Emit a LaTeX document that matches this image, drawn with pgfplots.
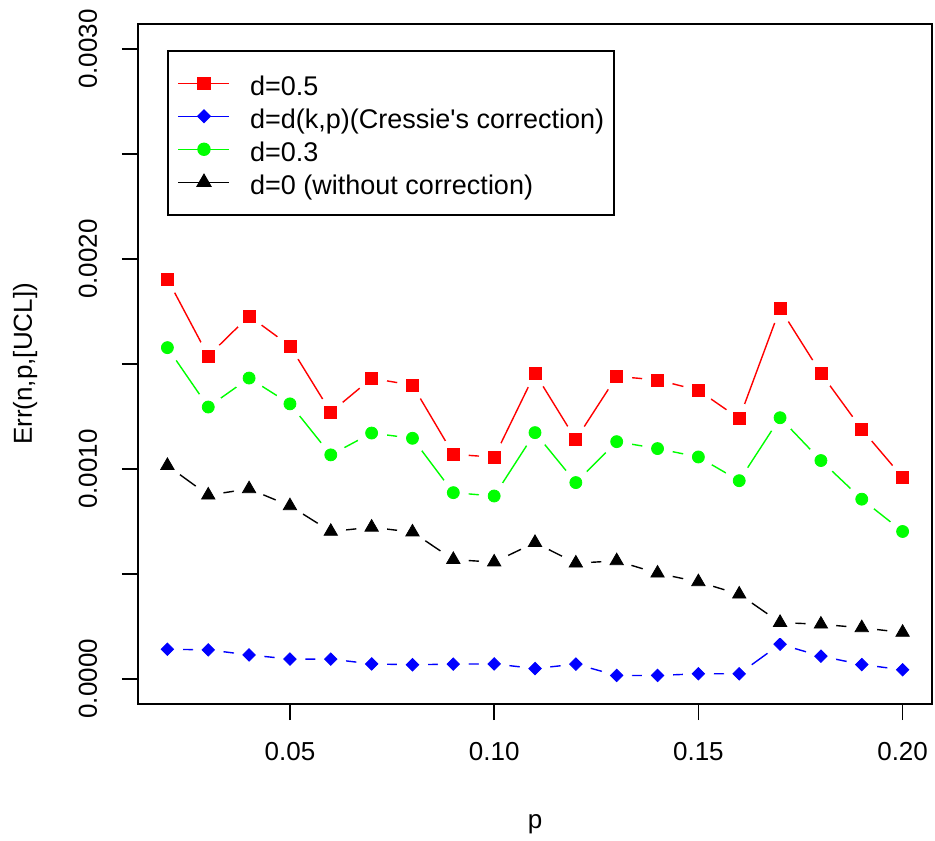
\documentclass[border=0pt]{standalone}
\usepackage{fontspec}
\setmainfont{Liberation Sans}
\usepackage{pgfplots}
\pgfplotsset{compat=1.18}
\usepackage{pgfplotstable}
\pgfplotstableread{
p    red      blue     green    black
0.02 0.001905 0.000141 0.001578 0.001016
0.03 0.001538 0.000138 0.001295 0.000875
0.04 0.001729 0.000114 0.001433 0.000905
0.05 0.001586 0.000094 0.001310 0.000824
0.06 0.001270 0.000094 0.001067 0.000702
0.07 0.001432 0.000071 0.001171 0.000722
0.08 0.001399 0.000067 0.001146 0.000699
0.09 0.001070 0.000070 0.000887 0.000568
0.10 0.001056 0.000071 0.000871 0.000556
0.11 0.001456 0.000049 0.001173 0.000649
0.12 0.001140 0.000070 0.000935 0.000551
0.13 0.001441 0.000016 0.001130 0.000562
0.14 0.001424 0.000016 0.001097 0.000503
0.15 0.001375 0.000024 0.001057 0.000462
0.16 0.001240 0.000024 0.000944 0.000403
0.17 0.001765 0.000165 0.001244 0.000268
0.18 0.001456 0.000108 0.001040 0.000260
0.19 0.001189 0.000068 0.000856 0.000243
0.20 0.000960 0.000043 0.000702 0.000221
}\datatable
\definecolor{rred}{RGB}{255,0,0}
\definecolor{rblue}{RGB}{0,0,255}
\definecolor{rgreen}{RGB}{0,255,0}
\begin{document}
\fontsize{13}{15.6}\selectfont
\begin{tikzpicture}
\begin{axis}[name=ax, scale only axis, width=397pt, height=340pt,
  xmin=0.0128, xmax=0.2072, ymin=-0.00012, ymax=0.00312,
  axis line style={line width=0.8pt, black},
  tick style={line width=0.8pt, black},
  tick align=outside, major tick length=8pt,
  xtick pos=bottom, ytick pos=left,
  xtick={0.05,0.10,0.15,0.20}, xticklabels={0.05,0.10,0.15,0.20},
  ytick={0,0.0005,0.001,0.0015,0.002,0.0025,0.003},
  yticklabels={0.0000,,0.0010,,0.0020,,0.0030},
  scaled ticks=false,
  /pgf/number format/assume math mode=true,
  xticklabel style={font=\fontsize{13}{15.6}\selectfont, anchor=base, yshift=-20pt},
  yticklabel style={font=\fontsize{13}{15.6}\selectfont, xshift=-12.5pt, rotate=90, anchor=base},
  legend image code/.code={\draw[mark repeat=2, mark phase=2, #1] plot coordinates {(0pt,0pt) (12.75pt,0pt) (25.5pt,0pt)};},
  legend style={at={(rel axis cs:0.0365,0.9618)}, anchor=north west, draw=black, line width=0.8pt,
    inner xsep=5pt, inner ysep=8pt, font=\fontsize{13.5}{16}\selectfont,
    nodes={inner sep=0pt, text height=14.15pt, text depth=2.35pt},
    /tikz/every odd column/.append style={column sep=11pt}},
  legend cell align=left,
]
% d=0.5
\addplot[rred, line width=0.7pt, mark=square*, mark size=3pt] table[x=p, y=red]{\datatable};
\addlegendentry{\hspace*{-1pt}d=0.5}
\addplot[forget plot, only marks, white, mark=*, mark size=7.5pt] table[x=p, y=red]{\datatable};
\addplot[forget plot, only marks, rred, mark=square*, mark size=3pt] table[x=p, y=red]{\datatable};
% Cressie
\addplot[rblue, line width=0.7pt, mark=square*, mark size=2.2pt, mark options={rotate=45}] table[x=p, y=blue]{\datatable};
\addlegendentry{\hspace*{-1pt}d=d(k,p)(Cressie\textquotesingle s correction)}
\addplot[forget plot, only marks, white, mark=*, mark size=7.5pt] table[x=p, y=blue]{\datatable};
\addplot[forget plot, only marks, rblue, mark=square*, mark size=2.2pt, mark options={rotate=45}] table[x=p, y=blue]{\datatable};
% d=0.3
\addplot[rgreen, line width=0.7pt, mark=*, mark size=3pt] table[x=p, y=green]{\datatable};
\addlegendentry{\hspace*{-1pt}d=0.3}
\addplot[forget plot, only marks, white, mark=*, mark size=7.5pt] table[x=p, y=green]{\datatable};
\addplot[forget plot, only marks, rgreen, mark=*, mark size=3pt] table[x=p, y=green]{\datatable};
% d=0
\addplot[black, line width=0.7pt, mark=triangle*, mark size=3.85pt] table[x=p, y=black]{\datatable};
\addlegendentry{\hspace*{-1pt}d=0 (without correction)}
\addplot[forget plot, only marks, white, mark=*, mark size=7.5pt] table[x=p, y=black]{\datatable};
\addplot[forget plot, only marks, black, mark=triangle*, mark size=3.85pt] table[x=p, y=black]{\datatable};
\end{axis}
\node[rotate=90, anchor=base] at ([xshift=-53pt]ax.west) {Err(n,p,[UCL])};
\node[anchor=base] at ([yshift=-62pt]ax.south) {p};
\pgfresetboundingbox
\path ([shift={(-69pt,-68pt)}]ax.south west) rectangle ([shift={(1.5pt,12pt)}]ax.north east);
\end{tikzpicture}
\end{document}
